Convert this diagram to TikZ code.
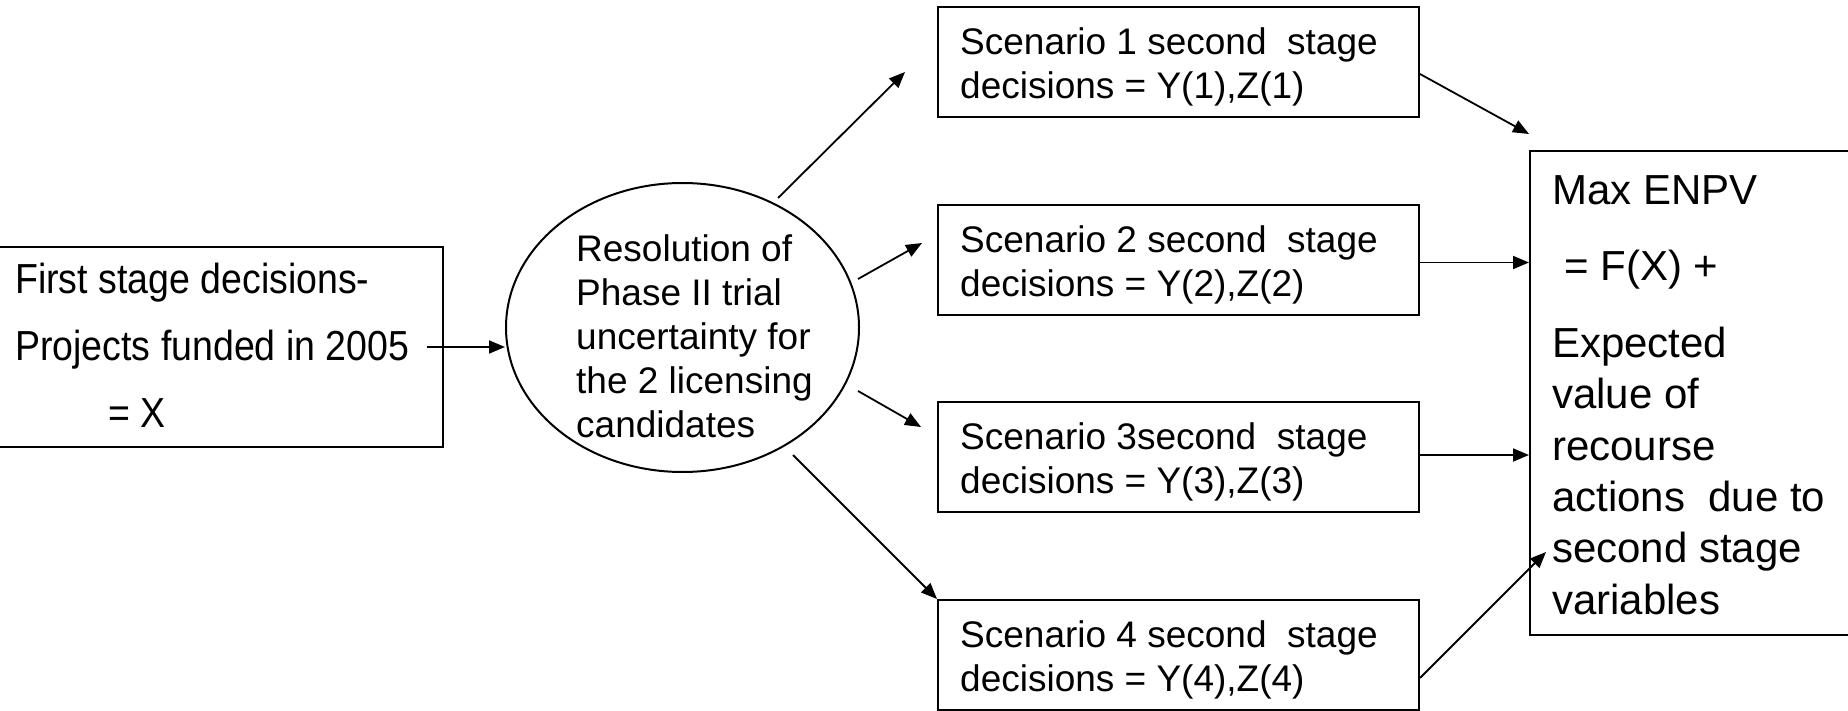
\documentclass[tikz,border=0pt]{standalone}
\usepackage{fontspec}
\usepackage{graphicx}
\setmainfont{Liberation Sans}
\usetikzlibrary{arrows.meta,calc,shapes.geometric}
\tikzset{
  box/.style={draw, line width=2pt, inner sep=0pt},
  sbox/.style={box, minimum width=481pt, minimum height=110pt},
  txt/.style={anchor=north west, inner sep=0pt, align=left},
  arr/.style={-{Triangle[length=16pt,width=13pt]}, line width=1.8pt}
}
\begin{document}
\begin{tikzpicture}[x=1pt,y=-1pt]
\useasboundingbox (0,0) rectangle (1848,711);
% boxes
\node[box, minimum width=448pt, minimum height=200pt] (L) at (219,347) {};
\node[box, ellipse, minimum width=353pt, minimum height=289pt] (E) at (682.5,327.5) {};
\node[sbox] (S1) at (1178.5,62.5) {};
\node[sbox] (S2) at (1178.5,260) {};
\node[sbox] (S3) at (1178.5,457) {};
\node[sbox] (S4) at (1178.5,655) {};
\node[box, minimum width=325pt, minimum height=484pt] (R) at (1692.5,393) {};
% texts
\node[txt, font=\fontsize{37.5}{67}\selectfont] (Lt) at (15,248)
  {\rule{0pt}{45pt}\scalebox{1}[1.12]{First stage decisions-}\\
   \scalebox{1}[1.12]{Projects funded in 2005}\\
   \hspace*{93pt}\scalebox{1}[1.12]{= X}};
\node[txt, font=\fontsize{37}{44}\selectfont] (Et) at (576,221)
  {\rule{0pt}{40pt}Resolution of\\Phase II trial\\uncertainty for\\the 2 licensing\\candidates};
\node[txt, font=\fontsize{37}{44}\selectfont] (S1t) at (960,14)
  {\rule{0pt}{40pt}Scenario 1 second\ \ stage\\decisions = Y(1),Z(1)};
\node[txt, font=\fontsize{37}{44}\selectfont] (S2t) at (960,212)
  {\rule{0pt}{40pt}Scenario 2 second\ \ stage\\decisions = Y(2),Z(2)};
\node[txt, font=\fontsize{37}{44}\selectfont] (S3t) at (960,409)
  {\rule{0pt}{40pt}Scenario 3second\ \ stage\\decisions = Y(3),Z(3)};
\node[txt, font=\fontsize{37}{44}\selectfont] (S4t) at (960,607)
  {\rule{0pt}{40pt}Scenario 4 second\ \ stage\\decisions = Y(4),Z(4)};
\node[txt, font=\fontsize{42}{51.4}\selectfont] (Rt) at (1552,156)
  {\rule{0pt}{48pt}Max ENPV\\[24.6pt]
   \hspace*{12pt}= F(X) +\\[25.6pt]
   Expected\\value of\\recourse\\actions\ \ due to\\second stage\\variables};
% connectors
\draw[arr] ($(L.east)+(-17,0)$) -- (E.west |- L.east);
\draw[arr] ($(E.center)+(95.5,-129.5)$) -- ($(S1.west)+(-32,9.5)$);
\draw[arr] ($(E.center)+(175.5,-48.5)$) -- ($(S2.west)+(-15,-17)$);
\draw[arr] ($(E.center)+(175.5,63.5)$) -- ($(S3.west)+(-16,-30)$);
\draw[arr] ($(E.center)+(110.5,127.5)$) -- (S4.north west);
\draw[arr] ($(S1.east)+(0,11.5)$) -- ($(R.north west)+(0,-16)$);
\draw[arr] ($(S2.east)+(0,2.5)$) -- ($(S2.east -| R.west)+(0,2.5)$);
\draw[arr] ($(S3.east)+(0,-2)$) -- ($(S3.east -| R.west)+(0,-2)$);
\draw[arr] ($(S4.east)+(0,23)$) -- ($(R.west)+(17,159)$);
\end{tikzpicture}
\end{document}
